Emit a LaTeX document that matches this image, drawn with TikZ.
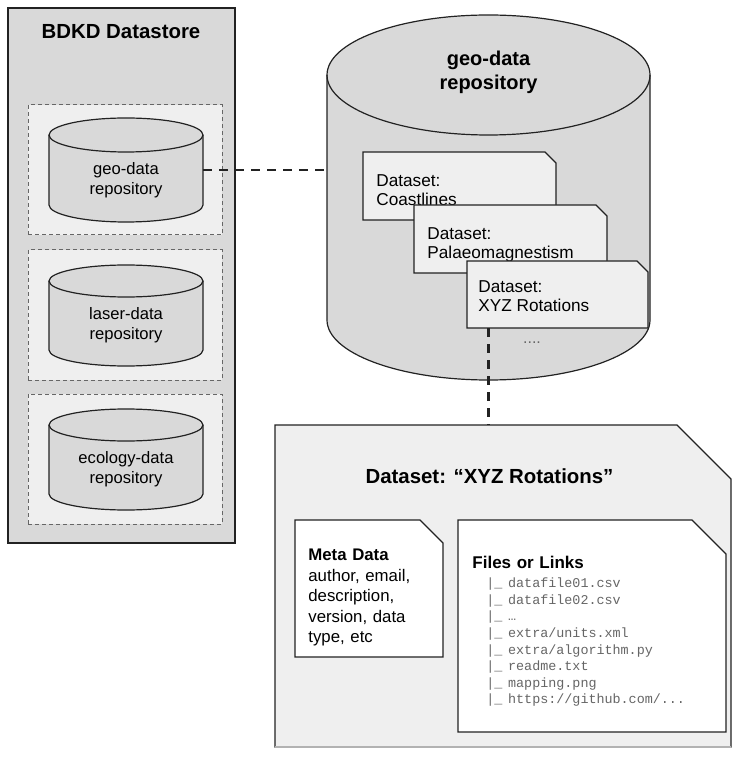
\documentclass[tikz,border=0pt]{standalone}
\usepackage{fontspec}
\setmainfont{Liberation Sans}
\setmonofont{Liberation Mono}
\usepackage{tikz}
\usetikzlibrary{calc}
\definecolor{storefill}{HTML}{D9D9D9}
\definecolor{slotfill}{HTML}{EFEFEF}
\definecolor{edge}{HTML}{222222}
\definecolor{muted}{HTML}{666666}
\tikzset{
  store/.style={draw=edge,fill=storefill,line width=1.1pt,inner sep=0pt,
    minimum width=113.5pt,minimum height=267.5pt},
  slot/.style={draw=muted,fill=slotfill,dash pattern=on 2pt off 1.5pt,line width=0.5pt,
    inner sep=0pt,minimum width=97pt,minimum height=65pt},
  repoline/.style={draw=edge,fill=storefill,line width=0.6pt},
  repotext/.style={inner sep=0pt,outer sep=0pt,align=center,font=\fontsize{8.3}{10}\selectfont},
  cardline/.style={draw=edge,fill=slotfill,line width=0.6pt},
  cardframe/.style={anchor=north west,inner sep=0pt,outer sep=0pt},
  cardtext/.style={anchor=north west,inner sep=0pt,align=left,font=\fontsize{8.6}{9.5}\selectfont},
  link/.style={draw=edge,line width=1.4pt,dash pattern=on 4.5pt off 3.5pt},
  titlestyle/.style={font=\bfseries\fontsize{10.2}{12}\selectfont,align=center,inner sep=0pt}
}
% cylinder: name, cx, cy, width, height, ellipse radius, text y, text options, text
\newcommand{\repocyl}[9]{%
  \draw[repoline] ({#2-#4/2},{#3-#5/2+#6}) -- ({#2-#4/2},{#3+#5/2-#6})
    arc[start angle=180,end angle=0,x radius={#4/2},y radius=#6]
    -- ({#2+#4/2},{#3-#5/2+#6})
    arc[start angle=0,end angle=-180,x radius={#4/2},y radius=#6] -- cycle;
  \draw[repoline,fill=none] ({#2-#4/2},{#3-#5/2+#6})
    arc[start angle=180,end angle=0,x radius={#4/2},y radius=#6]
    node[repotext,minimum width={#4*0.5pt},#8] (#1) at (#2,#7) {#9};}
% card with cut corner: name, left, top, width, height, cut, options
\newcommand{\chamcard}[7]{%
  \draw[cardline,#7] (#2,#3) -- ({#2+#4-#6},#3) -- ({#2+#4},{#3+#6})
    -- ({#2+#4},{#3+#5}) -- (#2,{#3+#5}) -- cycle
    node[cardframe,minimum width={#4*0.5pt},minimum height={#5*0.5pt}] (#1) at (#2,#3) {};}
\begin{document}
\begin{tikzpicture}[x=0.5pt,y=-0.5pt]
  \useasboundingbox (0,0) rectangle (743,758);
  % datastore column
  \node[store] (store) at (121.5,275.5) {};
  \node[titlestyle] (storetitle) at (121,32) {BDKD Datastore};
  \node[slot] (slotgeo) at (125,170) {};
  \node[slot] (slotlaser) at (125,315) {};
  \node[slot] (slotecology) at (125,459) {};
  \repocyl{geo}{126}{170}{154}{104}{17}{180}{}{geo-data\\repository}
  \repocyl{laser}{126}{315.5}{154}{101}{16}{325.5}{}{laser-data\\repository}
  \repocyl{ecology}{126}{459.5}{154}{101}{16}{469.5}{}{ecology-data\\repository}
  % repository detail
  \repocyl{georepo}{488.5}{197.5}{323}{365}{60}{72}{font=\bfseries\fontsize{10}{12}\selectfont}{geo-data\\repository}
  \chamcard{coast}{363}{152}{193}{68}{11}{}
  \node[cardtext] (coasttext) at (376,174) {Dataset:\\Coastlines};
  \chamcard{palaeo}{414}{205}{193}{68}{11}{}
  \node[cardtext] (palaeotext) at (427,227) {Dataset:\\Palaeomagnestism};
  \chamcard{xyz}{467}{261}{181}{67}{11}{}
  \node[cardtext] (xyztext) at (478,280) {Dataset:\\XYZ Rotations};
  \node[text=muted,font=\fontsize{8}{9}\selectfont,inner sep=0pt] (more) at (532,343) {....};
  % dataset detail
  \chamcard{dsbox}{275}{425}{456}{322}{54}{}
  \draw[draw=gray!60,line width=0.8pt] (dsbox.south west) -- (dsbox.south east);
  \node[titlestyle] (dstitle) at (489.5,476) {Dataset: “XYZ Rotations”};
  \chamcard{meta}{295}{520}{148}{137}{23}{fill=white}
  \node[cardtext,text width=62pt,font=\fontsize{8.4}{10.25}\selectfont] (metatext) at (308,549)
    {\textbf{Meta Data}\\author, email,\\description,\\version, data\\type, etc};
  \chamcard{files}{458}{520}{268}{212}{34}{fill=white}
  \node[cardtext,text width=120pt,font=\fontsize{8.5}{10}\selectfont] (filestext) at (472,556)
    {\textbf{Files or Links}\\[1.2pt]
     {\ttfamily\fontsize{6.7}{8.3}\selectfont\color{muted}\leftskip=7pt
     |\_ datafile01.csv\\
     |\_ datafile02.csv\\
     |\_ …\\
     |\_ extra/units.xml\\
     |\_ extra/algorithm.py\\
     |\_ readme.txt\\
     |\_ mapping.png\\
     |\_ https://github.com/...\par}};
  % links
  \draw[link] ([yshift=5pt]geo.east) -- ([yshift=5pt]geo.east -| georepo.west);
  \draw[link] (georepo.center |- xyz.south) -- (georepo.center |- dsbox.north);
\end{tikzpicture}
\end{document}
